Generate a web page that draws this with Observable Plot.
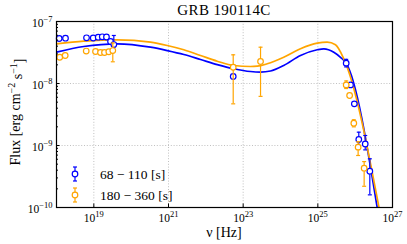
<!DOCTYPE html>
<html><head><meta charset="utf-8">
<script src="https://cdn.jsdelivr.net/npm/d3@7"></script>
<script src="https://cdn.jsdelivr.net/npm/@observablehq/plot@0.6"></script>
<style>
html,body{margin:0;padding:0;background:#fff;}
#chart{width:407px;height:244px;}
svg{display:block;}
</style></head><body><div id="chart"></div>
<script>
// ---- data ----
const title = "GRB 190114C";
const seriesLabels = ["68 \u2212 110 [s]", "180 \u2212 360 [s]"];

// 68-110 s data points
const blueNu   = [1.18e18, 1.74e18, 6.37e18, 9.62e18, 1.31e19, 1.68e19, 2.18e19, 2.8e19, 3.43e19, 5.41e22, 5.75e25, 7.5e25, 9.5e25, 1.25e26, 1.86e26, 2.47e26];
const blueFlux = [5.32e-8, 5.38e-8, 5.46e-8, 5.42e-8, 5.58e-8, 5.67e-8, 5.62e-8, 4.76e-8, 4.25e-8, 1.3e-8, 2.13e-8, 9.5e-9, 4.7e-9, 1.25e-9, 1.06e-9, 3.85e-10];
const blueLo   = [null, null, null, null, null, null, null, null, 3.9e-8, null, 1.85e-8, null, null, 1.0e-9, 0.85e-9, 1.6e-10];
const blueHi   = [null, null, null, null, null, null, null, null, 5.95e-8, null, 2.45e-8, null, null, 1.64e-9, 1.45e-9, 6.1e-10];

// 180-360 s data points
const orangeNu   = [1.22e18, 1.71e18, 6.25e18, 1.11e19, 1.51e19, 1.93e19, 2.52e19, 3.22e19, 5.41e22, 2.92e23, 5.75e25, 7.1e25, 9.2e25, 1.2e26, 1.74e26];
const orangeFlux = [2.65e-8, 2.83e-8, 3.34e-8, 3.28e-8, 3.16e-8, 3.16e-8, 3.25e-8, 3.4e-8, 1.83e-8, 2.27e-8, 9.5e-9, 6.4e-9, 2.29e-9, 9.4e-10, 4.3e-10];
const orangeLo   = [null, null, null, null, null, null, null, 2.24e-8, 4.7e-9, 6.2e-9, 8.3e-9, null, 2.0e-9, 6.9e-10, 2.2e-10];
const orangeHi   = [null, null, null, null, null, null, null, 4.5e-8, 2.9e-8, 3.85e-8, 1.1e-8, null, 2.6e-9, 1.15e-9, 5.5e-10];

// model curves
const blueModelNu   = [1e18, 5.38e18, 4.23e19, 3.3e20, 9.23e20, 2.57e21, 7.2e21, 2.02e22, 5.61e22, 1.57e23, 2.91e23, 5.4e23, 1.22e24, 3.43e24, 9.62e24, 1.45e25, 2.68e25, 4.05e25, 5.75e25, 3.89e26];
const blueModelFlux = [3.2e-8, 3.95e-8, 4.37e-8, 3.85e-8, 3.4e-8, 2.94e-8, 2.44e-8, 2.02e-8, 1.73e-8, 1.56e-8, 1.53e-8, 1.59e-8, 1.95e-8, 2.83e-8, 3.5e-8, 3.63e-8, 3.2e-8, 2.65e-8, 2.12e-8, 1e-10];
const orangeModelNu   = [1e18, 5.38e18, 4.23e19, 3.3e20, 9.23e20, 2.57e21, 7.2e21, 2.02e22, 5.61e22, 1.57e23, 2.38e23, 4.41e23, 1.22e24, 3.43e24, 9.62e24, 1.78e25, 2.97e25, 4.97e25, 4.35e26];
const orangeModelFlux = [4.37e-8, 4.81e-8, 5.07e-8, 4.64e-8, 4.1e-8, 3.5e-8, 2.83e-8, 2.29e-8, 1.95e-8, 1.88e-8, 1.9e-8, 2.08e-8, 2.65e-8, 3.63e-8, 4.47e-8, 4.64e-8, 4.21e-8, 2.5e-8, 1e-10];

// axes
const xTickVals = [1e19, 1e21, 1e23, 1e25, 1e27];
const xGridVals = [1e19, 1e21, 1e23, 1e25];
const yTickVals = [1e-10, 1e-9, 1e-8, 1e-7];
const yGridVals = [1e-9, 1e-8];
const yMinorVals = [];
for (const e of [-10, -9, -8]) for (let k = 2; k <= 9; k++) yMinorVals.push(k * Math.pow(10, e));
const xLabel = "\u03bd [Hz]";

// ---- build ----
const BLUE = "#0000ff", ORANGE = "#ffa500";
const SERIF = "'Liberation Serif', 'DejaVu Serif', serif";
const W = 407, H = 244, mL = 56, mR = 15, mT = 21, mB = 37;

const zipPts = (nu, f, lo, hi) => nu.map((d, i) => ({nu: d, flux: f[i], lo: lo[i], hi: hi[i]}));
const bluePts = zipPts(blueNu, blueFlux, blueLo, blueHi);
const orangePts = zipPts(orangeNu, orangeFlux, orangeLo, orangeHi);
const blueErr = bluePts.filter(d => d.lo != null);
const orangeErr = orangePts.filter(d => d.lo != null);
const blueModel = blueModelNu.map((d, i) => ({nu: d, flux: blueModelFlux[i]}));
const orangeModel = orangeModelNu.map((d, i) => ({nu: d, flux: orangeModelFlux[i]}));

const cap = {draw(ctx, size) { const w = Math.sqrt(size / Math.PI); ctx.moveTo(-w, 0); ctx.lineTo(w, 0); }};
const supFmt = d => "10^" + String(Math.round(Math.log10(d))).replace("-", "\u2212");

function seriesMarks(pts, err, color) {
  return [
    Plot.ruleX(err, {x: "nu", y1: "lo", y2: "hi", stroke: color, strokeWidth: 1.2}),
    Plot.dot(err, {x: "nu", y: "lo", symbol: cap, r: 2, stroke: color, fill: "none", strokeWidth: 1.2}),
    Plot.dot(err, {x: "nu", y: "hi", symbol: cap, r: 2, stroke: color, fill: "none", strokeWidth: 1.2}),
    Plot.dot(pts, {x: "nu", y: "flux", r: 2.8, stroke: color, fill: "white", strokeWidth: 1.2})
  ];
}

const chart = Plot.plot({
  width: W, height: H, marginLeft: mL, marginRight: mR, marginTop: mT, marginBottom: mB,
  style: {fontFamily: SERIF, background: "white", overflow: "visible", color: "black"},
  x: {type: "log", domain: [1e18, 1e27]},
  y: {type: "log", domain: [1e-10, 1e-7]},
  marks: [
    Plot.gridX(xGridVals, {stroke: "#b0b0b0", strokeOpacity: 1, strokeWidth: 0.8, strokeDasharray: "1,1.8"}),
    Plot.gridY(yGridVals, {stroke: "#b0b0b0", strokeOpacity: 1, strokeWidth: 0.8, strokeDasharray: "1,1.8"}),
    Plot.line(blueModel, {x: "nu", y: "flux", stroke: BLUE, strokeWidth: 1.7, curve: "monotone-x", clip: true}),
    Plot.line(orangeModel, {x: "nu", y: "flux", stroke: ORANGE, strokeWidth: 1.7, curve: "monotone-x", clip: true}),
    ...seriesMarks(bluePts, blueErr, BLUE),
    ...seriesMarks(orangePts, orangeErr, ORANGE),
    Plot.frame({stroke: "black", strokeWidth: 1.2}),
    Plot.axisX({ticks: xTickVals, tickSize: 0, tickPadding: 6, tickFormat: supFmt, label: null}),
    Plot.axisX({ticks: xTickVals, tickSize: -3.5, fill: "none", label: null}),
    Plot.axisY({ticks: yTickVals, tickSize: 0, tickPadding: 4, tickFormat: supFmt, dy: 1.5, label: null}),
    Plot.axisY({ticks: yTickVals, tickSize: -3.5, fill: "none", label: null}),
    Plot.axisY({ticks: yMinorVals, tickSize: -2, fill: "none", label: null})
  ]
});

const svg = d3.select(chart);
// superscripts in tick labels
svg.selectAll("g[aria-label$='tick label']").attr("font-size", 11.5).attr("font-family", SERIF);
svg.selectAll("g[aria-label$='tick label'] text").each(function() {
  const el = d3.select(this);
  const m = el.text().match(/^10\^(.+)$/);
  if (!m) return;
  el.attr("font-size", 11.5);
  el.text(null);
  el.append("tspan").text("10");
  el.append("tspan").attr("dy", "-0.5em").attr("font-size", "8.5px").text(m[1]);
});

// title
svg.append("text").attr("x", (mL + W - mR) / 2).attr("y", 14.5)
  .attr("text-anchor", "middle").attr("font-family", SERIF).attr("font-size", 15)
  .attr("letter-spacing", 0.4).attr("fill", "black").text(title);

// x label
svg.append("text").attr("x", (mL + W - mR) / 2).attr("y", 237)
  .attr("text-anchor", "middle").attr("font-family", SERIF).attr("font-size", 14)
  .attr("fill", "black").text(xLabel);

// y label
const yl = svg.append("text").attr("transform", "translate(15,112) rotate(-90)")
  .attr("text-anchor", "middle").attr("dy", "0.35em").attr("font-family", SERIF)
  .attr("font-size", 14).attr("fill", "black");
yl.append("tspan").text("Flux [erg cm");
yl.append("tspan").attr("dy", "-0.45em").attr("font-size", "10px").text("\u22122");
yl.append("tspan").attr("dy", "0.45em").text(" s");
yl.append("tspan").attr("dy", "-0.45em").attr("font-size", "10px").text("\u22121");
yl.append("tspan").attr("dy", "0.45em").text("]");

// legend
const leg = svg.append("g").attr("aria-label", "legend");
[[BLUE, 174, seriesLabels[0]], [ORANGE, 195, seriesLabels[1]]].forEach(([c, y, t]) => {
  const x = 75;
  leg.append("line").attr("x1", x).attr("x2", x).attr("y1", y - 7).attr("y2", y + 7).attr("stroke", c).attr("stroke-width", 1.2);
  leg.append("line").attr("x1", x - 2).attr("x2", x + 2).attr("y1", y - 7).attr("y2", y - 7).attr("stroke", c).attr("stroke-width", 1.2);
  leg.append("line").attr("x1", x - 2).attr("x2", x + 2).attr("y1", y + 7).attr("y2", y + 7).attr("stroke", c).attr("stroke-width", 1.2);
  leg.append("circle").attr("cx", x).attr("cy", y).attr("r", 2.8).attr("fill", "white").attr("stroke", c).attr("stroke-width", 1.2);
  leg.append("text").attr("x", 100).attr("y", y).attr("dy", "0.35em").attr("text-anchor", "start")
    .attr("font-family", SERIF).attr("font-size", 13.5).attr("fill", "black").text(t);
});

document.getElementById("chart").appendChild(chart);
</script></body></html>
